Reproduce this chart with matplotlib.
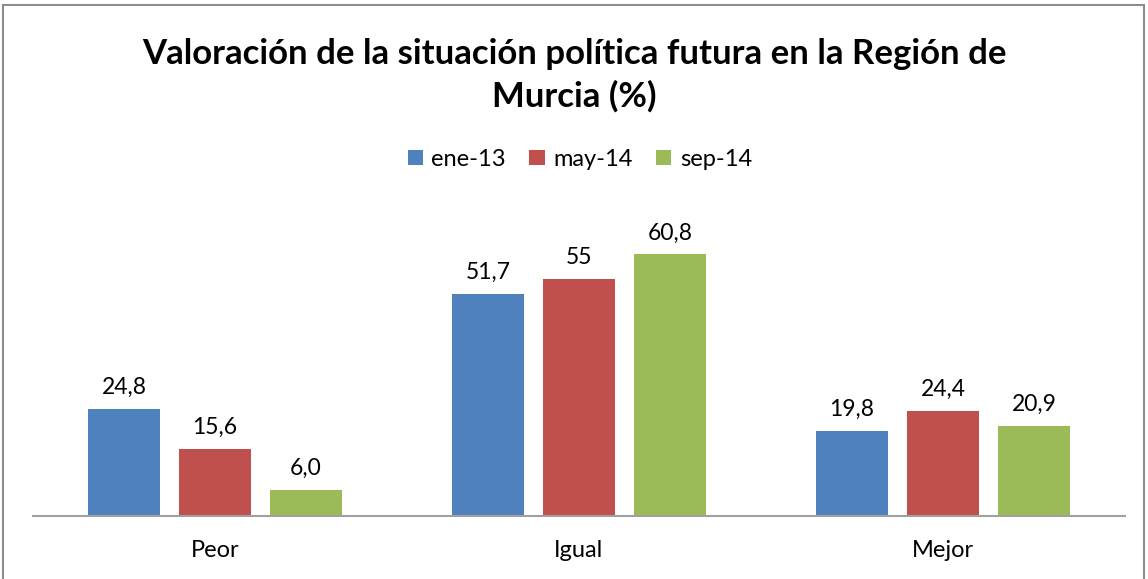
import numpy as np
import matplotlib.pyplot as plt
from matplotlib.patches import Rectangle

categories = ['Peor', 'Igual', 'Mejor']
series_names = ['ene-13', 'may-14', 'sep-14']
ene_13 = [24.8, 51.7, 19.8]
may_14 = [15.6, 55.0, 24.4]
sep_14 = [6.0, 60.8, 20.9]
value_labels = [['24,8', '51,7', '19,8'],
                ['15,6', '55', '24,4'],
                ['6,0', '60,8', '20,9']]

colors = ['#4F81BD', '#C0504D', '#9BBB59']

plt.rcParams['font.family'] = ['Lato', 'DejaVu Sans']

fig = plt.figure(figsize=(11.48, 5.79), dpi=100)
fig.patches.append(Rectangle((3 / 1148, -0.01), 1141 / 1148, 1 - 5 / 579 + 0.01,
                             transform=fig.transFigure, fill=False,
                             edgecolor='#8C8C8C', linewidth=1.5))

ax = fig.add_axes([33 / 1148, 63 / 579, 1092 / 1148, 0.52])

x = np.arange(len(categories))
step = 0.25
width = 0.198
for i, (vals, name) in enumerate(zip([ene_13, may_14, sep_14], series_names)):
    bars = ax.bar(x + (i - 1) * step, vals, width, color=colors[i], label=name)
    for b, lab in zip(bars, value_labels[i]):
        ax.annotate(lab, (b.get_x() + b.get_width() / 2, b.get_height()),
                    xytext=(0, 8), textcoords='offset points',
                    ha='center', va='bottom', fontsize=16.5)

ax.set_xlim(-0.5, 2.5)
ax.set_ylim(0, 70)
ax.set_yticks([])
ax.set_xticks(x)
ax.set_xticklabels(categories, fontsize=17)
ax.tick_params(axis='x', length=0, pad=17)
for s in ['top', 'right', 'left']:
    ax.spines[s].set_visible(False)
ax.spines['bottom'].set_color('#A0A0A0')
ax.spines['bottom'].set_linewidth(1.5)

fig.text(0.5, 0.935, 'Valoración de la situación política futura en la Región de\nMurcia (%)',
         ha='center', va='top', fontsize=25, fontweight='bold', linespacing=1.4)

fig.legend(loc='center', bbox_to_anchor=(0.505, 0.725), ncol=3, frameon=False,
           fontsize=17, handlelength=0.65, handleheight=0.65, handletextpad=0.35,
           columnspacing=1.0)

fig.savefig('out.png', dpi=100)
